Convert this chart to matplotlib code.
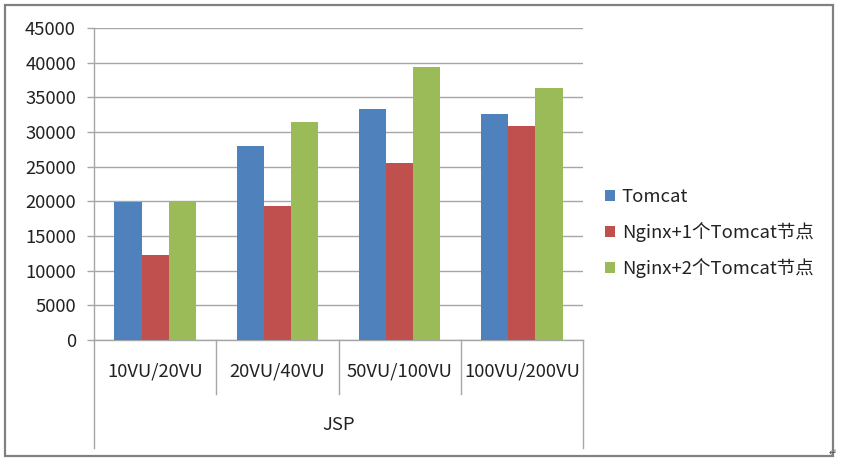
import matplotlib
matplotlib.use("Agg")
import matplotlib.pyplot as plt
import numpy as np
from matplotlib.lines import Line2D
from matplotlib.patches import Rectangle
import matplotlib.transforms as mtrans

plt.rcParams['font.family'] = ['Noto Sans CJK SC', 'DejaVu Sans']

categories = ["10VU/20VU", "20VU/40VU", "50VU/100VU", "100VU/200VU"]
group_label = "JSP"
series_names = ["Tomcat", "Nginx+1个Tomcat节点", "Nginx+2个Tomcat节点"]
tomcat = [19900, 28000, 33300, 32600]
nginx1 = [12300, 19300, 25600, 30900]
nginx2 = [20100, 31500, 39400, 36400]
yticks = [0, 5000, 10000, 15000, 20000, 25000, 30000, 35000, 40000, 45000]

colors = ["#4F81BD", "#C0504D", "#9BBB59"]
grid_c = "#A6A6A6"
W, H = 841, 465
fs = 13.3

fig = plt.figure(figsize=(W / 100, H / 100), dpi=100)
fig.patches.append(Rectangle((5 / W, 9 / H), 828 / W, 451 / H, transform=fig.transFigure,
                             fill=False, edgecolor="#808080", linewidth=1.6))

ax = fig.add_axes([94 / W, 125 / H, 489 / W, 312 / H])
x = np.arange(len(categories))
bw = 0.222
for i, (vals, c, name) in enumerate(zip([tomcat, nginx1, nginx2], colors, series_names)):
    ax.bar(x + (i - 1) * bw, vals, width=bw, color=c, label=name, zorder=3)

ax.set_xlim(-0.5, len(categories) - 0.5)
ax.set_ylim(0, 45000)
ax.set_yticks(yticks)
ax.set_yticklabels([str(v) for v in yticks], fontsize=fs, color="#222222")
ax.yaxis.grid(True, color=grid_c, linewidth=1.0, zorder=0)
ax.tick_params(axis='y', length=5, width=1.0, color=grid_c, pad=8)
ax.set_xticks([])
for s in ["top", "right"]:
    ax.spines[s].set_visible(False)
for s in ["left", "bottom"]:
    ax.spines[s].set_color(grid_c)
    ax.spines[s].set_linewidth(1.0)

# multi-level category axis
tr = mtrans.blended_transform_factory(ax.transData, ax.transAxes)
for xs in np.arange(0.5, len(categories) - 0.5, 1.0):
    ax.add_line(Line2D([xs, xs], [0, -54 / 312], transform=tr, color=grid_c, lw=1.0, clip_on=False))
for xs in [-0.5, len(categories) - 0.5]:
    ax.add_line(Line2D([xs, xs], [0, -108 / 312], transform=tr, color=grid_c, lw=1.0, clip_on=False))
for xi, lab in zip(x, categories):
    ax.text(xi, -31 / 312, lab, transform=tr, ha='center', va='center', fontsize=fs, color="#222222")
ax.text((len(categories) - 1) / 2, -85 / 312, group_label, transform=tr, ha='center', va='center',
        fontsize=fs, color="#222222")

leg = ax.legend(loc='center left', bbox_to_anchor=(605 / W, 232 / H), bbox_transform=fig.transFigure,
                frameon=False, fontsize=fs, handlelength=0.55, handleheight=0.55,
                handletextpad=0.35, labelspacing=0.85, borderaxespad=0, borderpad=0)
for t in leg.get_texts():
    t.set_color("#222222")

fig.text(837 / W, 12 / H, "↵", fontsize=7, color="#555555", ha='right', va='center',
         family=['DejaVu Sans'])

fig.savefig("out.png", dpi=100)
